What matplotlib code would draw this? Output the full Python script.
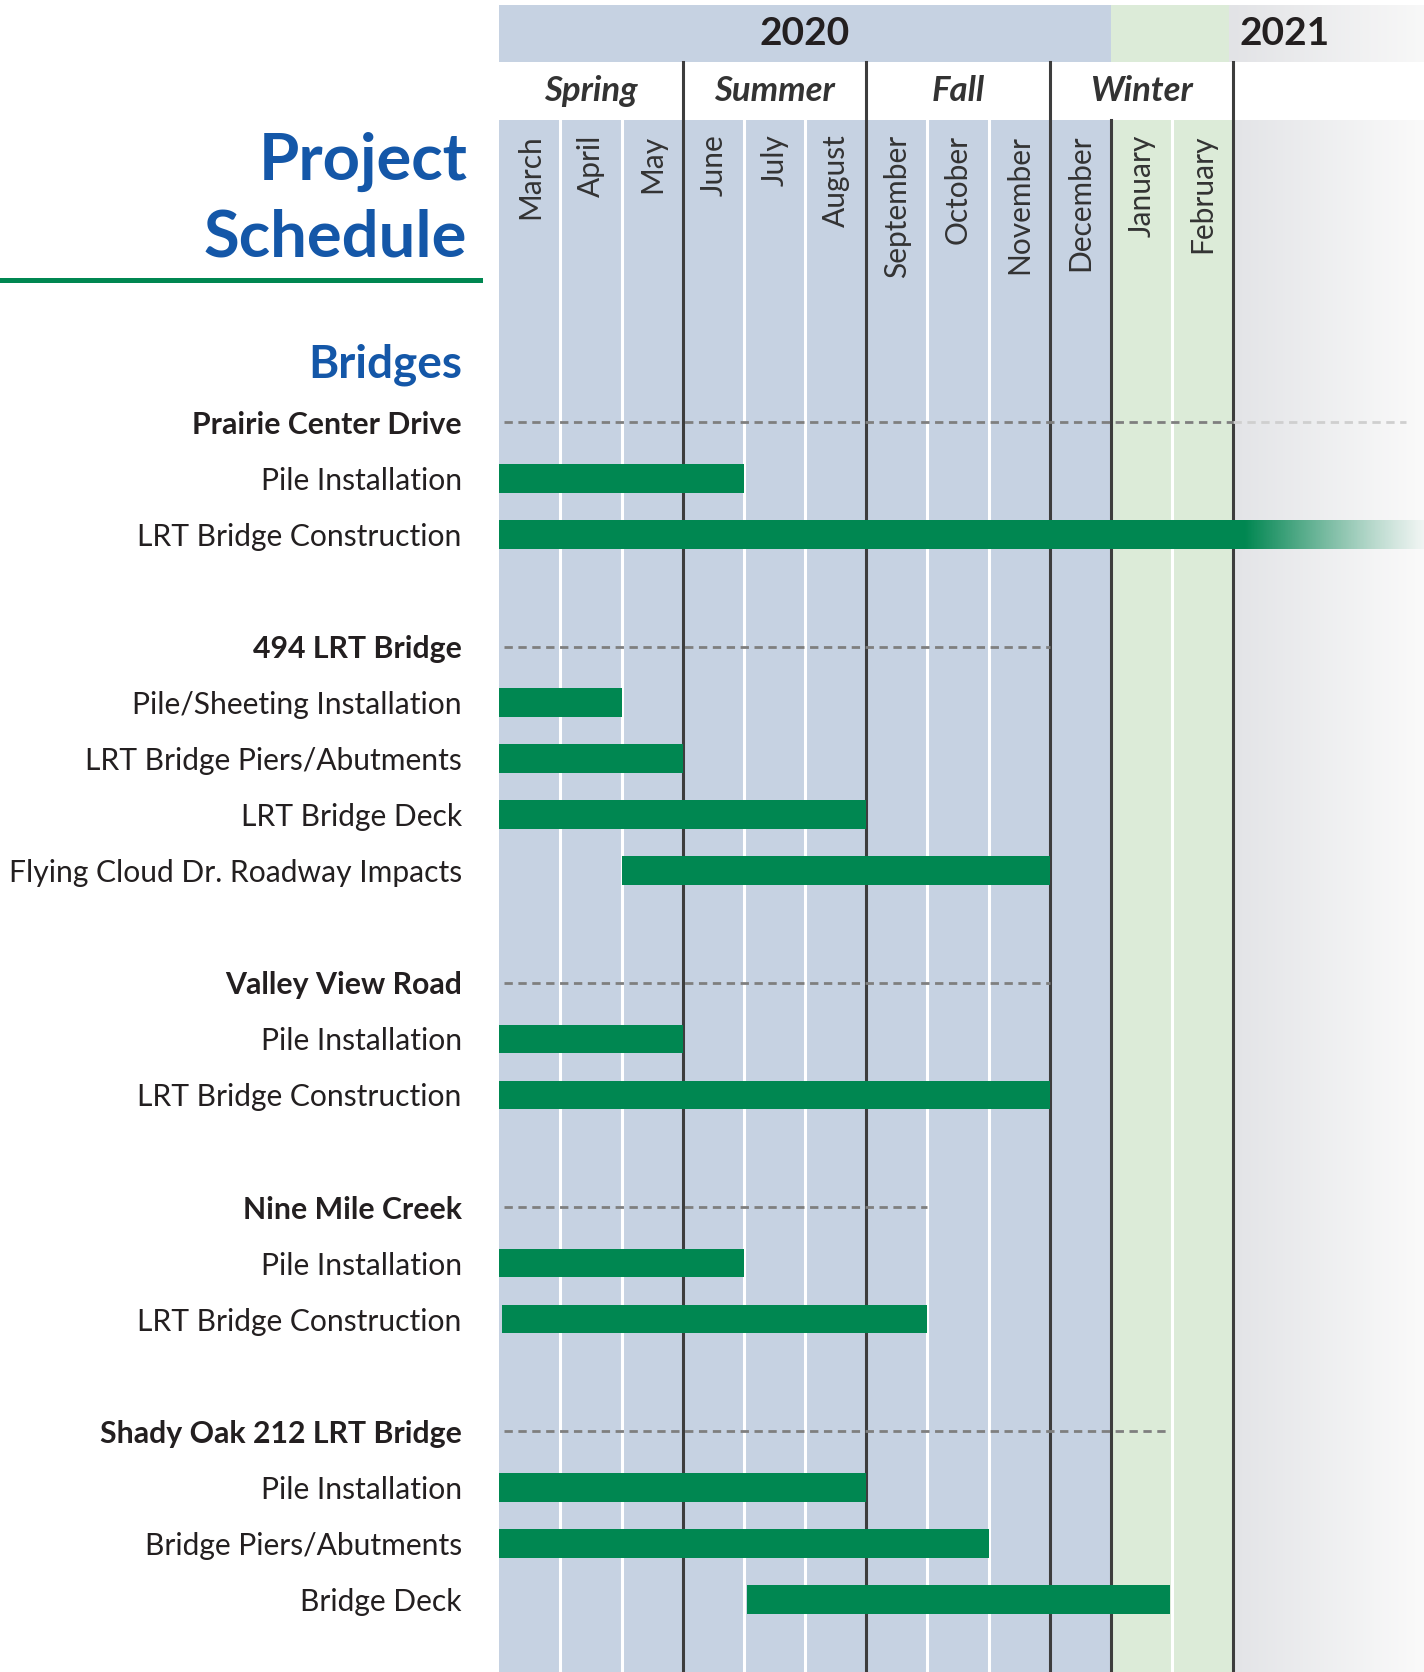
import numpy as np
import matplotlib.pyplot as plt
import matplotlib.transforms as mtransforms
from matplotlib.patches import Rectangle
from matplotlib.colors import to_rgb

plt.rcParams['font.family'] = ['Lato', 'DejaVu Sans']

# ---- data ----
months = ['March', 'April', 'May', 'June', 'July', 'August', 'September',
          'October', 'November', 'December', 'January', 'February']
seasons = ['Spring', 'Summer', 'Fall', 'Winter']
years = ['2020', '2021']

groups = ['Prairie Center Drive', '494 LRT Bridge', 'Valley View Road',
          'Nine Mile Creek', 'Shady Oak 212 LRT Bridge']
tasks = [
    ['Pile Installation', 'LRT Bridge Construction'],
    ['Pile/Sheeting Installation', 'LRT Bridge Piers/Abutments', 'LRT Bridge Deck',
     'Flying Cloud Dr. Roadway Impacts'],
    ['Pile Installation', 'LRT Bridge Construction'],
    ['Pile Installation', 'LRT Bridge Construction'],
    ['Pile Installation', 'Bridge Piers/Abutments', 'Bridge Deck'],
]
# months after March 1, 2020; None = ongoing past the chart
starts = [[0, 0], [0, 0, 0, 2], [0, 0], [0, 0.05], [0, 0, 4.05]]
ends = [[4, None], [2, 3, 6, 9], [3, 9], [4, 7], [6, 8, 10.97]]

# ---- style ----
BLUE_BG = '#c6d2e2'
GREEN_BG = '#dcebd8'
BAR = '#008751'
TITLE = '#1457a8'
TEXT = '#231f20'
DARK = '#3d3d3d'
XMAX = 15.12

fig = plt.figure(figsize=(14.24, 16.72), dpi=100)
x0 = 468 / 1335
ax = fig.add_axes([x0, 0, 1 - x0, 1 - 5 / 1568])
ax.axis('off')

step = 52.57
y_year = (5 - 396) / step
y_season = (58 - 396) / step
y_month = (113 - 396) / step
y_bot = 21 + (1568 - 1500) / step


def hgrad(x_a, x_b, y_a, y_b, c1, c2, z=0):
    c1, c2 = np.array(to_rgb(c1)), np.array(to_rgb(c2))
    t = np.linspace(0, 1, 256)[None, :, None]
    img = c1 + (c2 - c1) * t
    ax.imshow(img, extent=(x_a, x_b, y_b, y_a), aspect='auto', zorder=z,
              interpolation='bilinear')


# backgrounds
ax.add_patch(Rectangle((0, y_month), 10, y_bot - y_month, color=BLUE_BG, lw=0, zorder=0))
ax.add_patch(Rectangle((10, y_month), 2, y_bot - y_month, color=GREEN_BG, lw=0, zorder=0))
hgrad(12, XMAX, y_month, y_bot, '#e3e4e7', '#fafafa')
ax.add_patch(Rectangle((0, y_year), 10, y_season - y_year, color=BLUE_BG, lw=0, zorder=0))
ax.add_patch(Rectangle((10, y_year), 1.93, y_season - y_year, color=GREEN_BG, lw=0, zorder=0))
hgrad(11.93, XMAX, y_year, y_season, '#e2e3e6', '#f8f8f8')

# grid lines
dark_season = [3, 6, 9, 12]
for m in range(1, 12):
    if m in dark_season or m == 10:
        continue
    ax.plot([m, m], [y_month, y_bot], color='white', lw=2.2, zorder=1)
for m in dark_season:
    ax.plot([m, m], [y_season, y_bot], color=DARK, lw=2.2, zorder=1)
ax.plot([10, 10], [y_month, y_bot], color=DARK, lw=2.2, zorder=1)

# header text
ax.text(5, (y_year + y_season) / 2, years[0], ha='center', va='center',
        fontsize=28, fontweight='bold', color=TEXT)
ax.text(12.1, (y_year + y_season) / 2, years[1], ha='left', va='center',
        fontsize=28, fontweight='bold', color=TEXT)
for i, s in enumerate(seasons):
    ax.text(3 * i + 1.5, (y_season + y_month) / 2, s, ha='center', va='center',
            fontsize=25, fontweight='bold', fontstyle='italic', color='#333333')
for i, m in enumerate(months):
    ax.text(i + 0.5, y_month + 0.25, m, rotation=90, ha='center', va='top',
            fontsize=21.5, color='#333333')

# left labels
trans = mtransforms.blended_transform_factory(fig.transFigure, ax.transData)
lx = 433 / 1335
fig.text(438 / 1335, 1 - 169 / 1568, 'Project', ha='right', va='baseline',
         fontsize=47, fontweight='bold', color=TITLE)
fig.text(438 / 1335, 1 - 241 / 1568, 'Schedule', ha='right', va='baseline',
         fontsize=47, fontweight='bold', color=TITLE)
fig.add_artist(plt.Line2D([0, 450 / 1335], [1 - 263 / 1568] * 2, color=BAR, lw=3.6))
fig.text(lx, 1 - 354 / 1568, 'Bridges', ha='right', va='baseline',
         fontsize=33, fontweight='bold', color=TITLE)

row = 0
for g, name in enumerate(groups):
    g_ends = [XMAX - 0.3 if e is None else e for e in ends[g]]
    hend = max(g_ends)
    ax.text(lx, row, name, transform=trans, ha='right', va='center_baseline',
            fontsize=21.8, fontweight='bold', color=TEXT)
    if hend > 12:
        ax.plot([0.08, 12], [row, row], color='#7f7f7f', lw=2, dashes=(3, 2), zorder=2)
        ax.plot([12, hend], [row, row], color='#cfcfcf', lw=2, dashes=(3, 2), zorder=2)
    else:
        ax.plot([0.08, hend], [row, row], color='#7f7f7f', lw=2, dashes=(3, 2), zorder=2)
    row += 1
    for t, label in enumerate(tasks[g]):
        ax.text(lx, row, label, transform=trans, ha='right', va='center_baseline',
                fontsize=21.6, color=TEXT)
        s, e = starts[g][t], ends[g][t]
        if e is None:
            ax.barh(row, 12.2 - s, left=s, height=0.51, color=BAR, zorder=3)
            rgb = np.array(to_rgb(BAR))
            img = np.zeros((1, 256, 4))
            img[..., :3] = rgb
            img[..., 3] = np.linspace(1, 0.08, 256) ** 1.3
            ax.imshow(img, extent=(12.2, XMAX, row + 0.255, row - 0.255),
                      aspect='auto', zorder=3, interpolation='bilinear')
        else:
            ax.barh(row, e - s, left=s, height=0.51, color=BAR, zorder=3)
        row += 1
    row += 1

ax.set_xlim(0, XMAX)
ax.set_ylim(y_bot, y_year)

fig.savefig('out.png', dpi=100)
